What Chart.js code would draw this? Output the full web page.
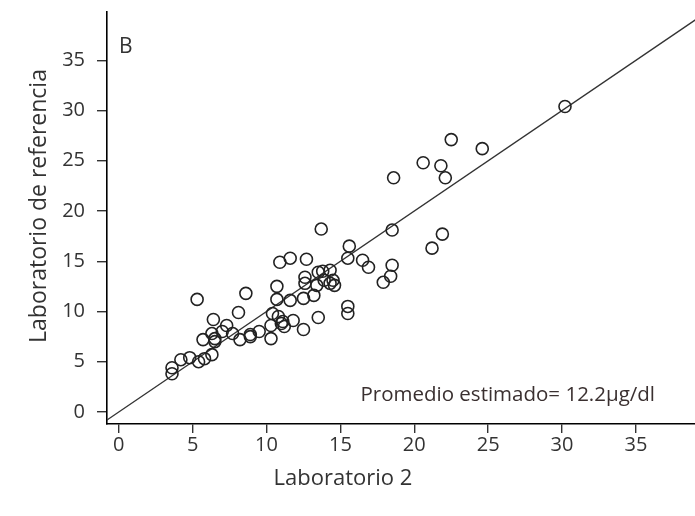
<!DOCTYPE html>
<html>
<head>
<meta charset="utf-8">
<script src="https://cdn.jsdelivr.net/npm/chart.js@4/dist/chart.umd.min.js"></script>
<style>
  html, body { margin: 0; padding: 0; background: #fff; overflow: hidden; }
  #wrap { width: 695px; height: 516px; position: relative; }
  canvas { display: block; }
</style>
</head>
<body>
<div id="wrap"><canvas id="c" width="695" height="516"></canvas></div>
<script>
// ---- data ----
const lab2 = [
  3.6, 3.6, 4.2, 4.8, 5.4, 5.8, 6.3, 5.7, 6.5, 6.5, 7.3, 7.7, 8.2, 8.9, 9.5, 6.4, 8.1, 5.3, 8.6, 7.0, 6.3,
  10.7, 10.7, 11.6, 12.5, 13.2, 12.6, 13.4, 14.3, 14.6, 11.1, 11.0, 11.2, 11.8, 12.5, 13.5, 10.4, 10.3, 8.9, 15.5, 15.5, 10.3, 10.8,
  13.7, 10.9, 11.6, 12.7, 15.6, 15.5, 16.5, 16.9, 13.5, 14.3, 12.6, 14.5, 13.9, 13.8,
  18.5, 18.5, 18.4, 17.9, 21.2, 21.9, 18.6, 20.6, 21.8, 22.1, 22.5, 24.6, 30.2
];
const labRef = [
  4.4, 3.8, 5.2, 5.4, 5.0, 5.3, 5.7, 7.2, 7.3, 7.0, 8.6, 7.8, 7.2, 7.5, 8.0, 9.2, 9.9, 11.2, 11.8, 8.0, 7.8,
  12.5, 11.2, 11.1, 11.3, 11.6, 12.8, 12.6, 12.8, 12.6, 9.0, 8.8, 8.5, 9.1, 8.2, 9.4, 9.8, 7.3, 7.7, 10.5, 9.8, 8.6, 9.5,
  18.2, 14.9, 15.3, 15.2, 16.5, 15.3, 15.1, 14.4, 13.9, 14.1, 13.4, 13.1, 13.1, 14.0,
  18.1, 14.6, 13.5, 12.9, 16.3, 17.7, 23.3, 24.8, 24.5, 23.3, 27.1, 26.2, 30.4
];
const identityX = [-1, 40];
const identityY = [-1, 40];
const xTicks = [0, 5, 10, 15, 20, 25, 30, 35];
const yTicks = [0, 5, 10, 15, 20, 25, 30, 35];
const xTitle = "Laboratorio 2";
const yTitle = "Laboratorio de referencia";
const panelLabel = "B";
const noteText = "Promedio estimado= 12.2\u00B5g/dl";

const points = lab2.map((x, i) => ({ x: x, y: labRef[i] }));
const linePts = identityX.map((x, i) => ({ x: x, y: identityY[i] }));

const FONT = "'Open Sans', 'Liberation Sans', Arial, sans-serif";

const textPlugin = {
  id: 'texts',
  afterDraw(chart) {
    const { ctx, chartArea } = chart;
    ctx.save();
    ctx.fillStyle = '#333';
    ctx.textBaseline = 'middle';
    // panel letter
    ctx.font = "21px " + FONT;
    ctx.textAlign = 'left';
    ctx.fillText(panelLabel, chartArea.left + 12, chartArea.top + 35);
    // note
    ctx.font = "20.5px " + FONT;
    ctx.textAlign = 'right';
    ctx.fillStyle = '#3a3030';
    ctx.fillText(noteText, chartArea.right - 40, chartArea.bottom - 29);
    // axis titles
    ctx.fillStyle = '#333';
    ctx.font = "22px " + FONT;
    ctx.textAlign = 'center';
    ctx.fillText(xTitle, chartArea.left + 236, chartArea.bottom + 55);
    ctx.save();
    ctx.translate(chartArea.left - 68, chartArea.top + 194);
    ctx.rotate(-Math.PI / 2);
    ctx.font = "23px " + FONT;
    ctx.fillText(yTitle, 0, 0);
    ctx.restore();
    ctx.restore();
  }
};

new Chart(document.getElementById('c'), {
  type: 'scatter',
  data: {
    datasets: [
      {
        type: 'line',
        data: linePts,
        borderColor: '#333',
        borderWidth: 1.4,
        pointRadius: 0,
        fill: false,
        order: 2
      },
      {
        data: points,
        pointStyle: 'circle',
        pointRadius: 6,
        pointHoverRadius: 6,
        borderColor: '#222',
        borderWidth: 1.6,
        backgroundColor: 'rgba(0,0,0,0)',
        order: 1
      }
    ]
  },
  options: {
    responsive: false,
    animation: false,
    events: [],
    layout: { autoPadding: false, padding: { top: 12, right: 0, left: 0, bottom: 0 } },
    plugins: { legend: { display: false }, tooltip: { enabled: false } },
    scales: {
      x: {
        type: 'linear',
        min: -0.8,
        max: 39,
        afterBuildTicks(s) { s.ticks = xTicks.map(v => ({ value: v })); },
        afterFit(s) { s.height = 92; s.paddingLeft = 0; s.paddingRight = 0; },
        grid: { display: true, drawOnChartArea: false, drawTicks: true, tickLength: 9, color: '#333', lineWidth: 1.4 },
        border: { display: true, color: '#000', width: 1.6 },
        ticks: { color: '#333', font: { family: FONT, size: 20 }, padding: 0, maxRotation: 0 },
        title: { display: false }
      },
      y: {
        type: 'linear',
        min: -1.2,
        max: 39.8,
        afterBuildTicks(s) { s.ticks = yTicks.map(v => ({ value: v })); },
        afterFit(s) { s.width = 107; s.paddingTop = 0; s.paddingBottom = 0; },
        grid: { display: true, drawOnChartArea: false, drawTicks: true, tickLength: 10, color: '#333', lineWidth: 1.4 },
        border: { display: true, color: '#000', width: 1.6 },
        ticks: { color: '#333', font: { family: FONT, size: 20 }, padding: 12 },
        title: { display: false }
      }
    }
  },
  plugins: [textPlugin]
});
</script>
</body>
</html>
